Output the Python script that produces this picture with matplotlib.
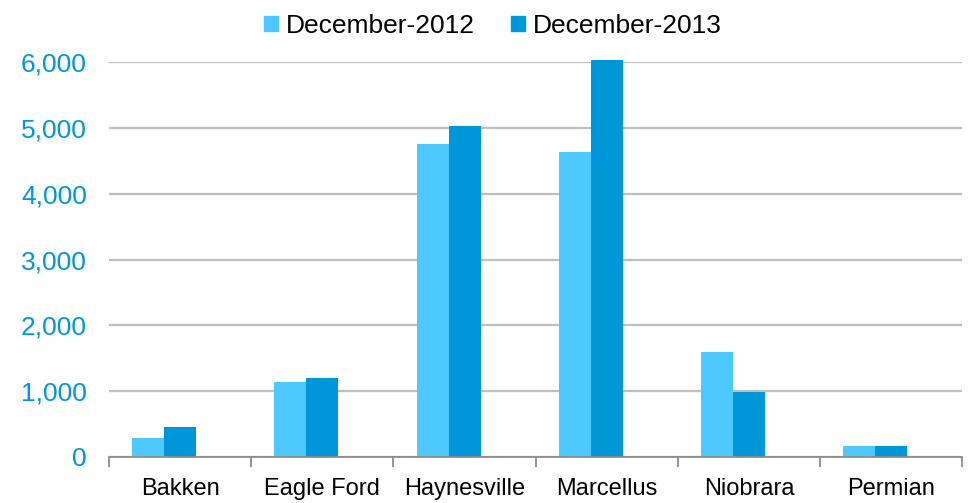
import numpy as np
import matplotlib.pyplot as plt
from matplotlib.patches import Patch

plt.rcParams['font.family'] = ['Liberation Sans', 'DejaVu Sans']

# rig counts by play
plays = ['Bakken', 'Eagle Ford', 'Haynesville', 'Marcellus', 'Niobrara', 'Permian']
dec_2012 = [285, 1145, 4750, 4630, 1590, 172]
dec_2013 = [458, 1202, 5030, 6025, 990, 165]
yticks = [0, 1000, 2000, 3000, 4000, 5000, 6000]

light = '#4DC9FF'
dark = '#0097D8'
grid_gray = '#BFBFBF'

fig = plt.figure(figsize=(9.74, 5.03), dpi=100)
ax = fig.add_axes([0.112, 0.0915, 0.876, 0.785])

x = np.arange(len(plays))
w = 0.225
ax.bar(x - w / 2 - 0.112, dec_2012, width=w, color=light, zorder=3, clip_on=False)
ax.bar(x + w / 2 - 0.112, dec_2013, width=w, color=dark, zorder=3, clip_on=False)

ax.set_xlim(-0.5, len(plays) - 0.5)
ax.set_ylim(0, 6000)
ax.set_yticks(yticks)
ax.set_yticklabels([f'{v:,}' for v in yticks], color='#0097D8', fontsize=19)
ax.yaxis.grid(True, color=grid_gray, linewidth=1.6, zorder=0)
ax.tick_params(axis='y', length=0, pad=16)

# category labels sit between boundary tick marks
ax.set_xticks(x)
ax.set_xticklabels(plays, fontsize=17)
ax.tick_params(axis='x', length=0, pad=15)
ax.set_xticks(np.arange(-0.5, len(plays)), minor=True)
ax.tick_params(axis='x', which='minor', length=7, width=1.3, color='#8C8C8C')

for side in ['top', 'right', 'left']:
    ax.spines[side].set_visible(False)
ax.spines['bottom'].set_color('#8C8C8C')
ax.spines['bottom'].set_linewidth(1.3)
ax.spines['bottom'].set_zorder(4)

handles = [Patch(color=light, label='December-2012'),
           Patch(color=dark, label='December-2013')]
fig.legend(handles=handles, loc='upper center', bbox_to_anchor=(0.506, 1.02),
           ncol=2, frameon=False, fontsize=19, handlelength=0.5, handleheight=0.5,
           handletextpad=0.3, columnspacing=1.4)

fig.savefig('out.png', dpi=100)
